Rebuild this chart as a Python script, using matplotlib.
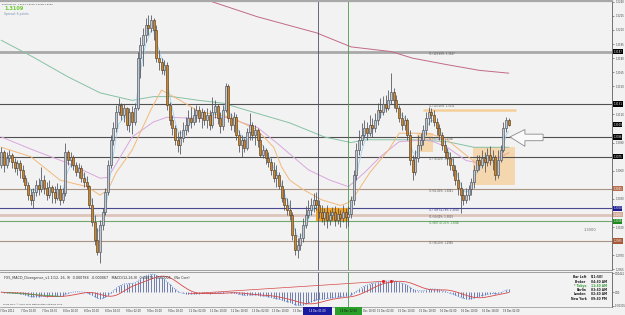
import numpy as np
import matplotlib
matplotlib.use("Agg")
import matplotlib.pyplot as plt
from matplotlib.patches import Rectangle, Polygon
from matplotlib.transforms import blended_transform_factory

# ---------------- data ----------------
symbol = "EURAUD,H1"
first_open = 1.3066
close = [1.3080, 1.3066, 1.3074, 1.3077, 1.3069, 1.3063, 1.3068, 1.3061, 1.3052, 1.3045,
         1.3034, 1.3029, 1.3037, 1.3045, 1.3040, 1.3050, 1.3042, 1.3034, 1.3043, 1.3037,
         1.3031, 1.3040, 1.3029, 1.3036, 1.3080, 1.3071, 1.3075, 1.3066, 1.3059, 1.3063,
         1.3052, 1.3048, 1.3044, 1.3023, 1.3005, 1.2986, 1.2973, 1.3002, 1.3016, 1.3037,
         1.3066, 1.3093, 1.3106, 1.3123, 1.3130, 1.3119, 1.3127, 1.3109, 1.3123, 1.3112,
         1.3127, 1.3180, 1.3194, 1.3205, 1.3215, 1.3212, 1.3221, 1.3210, 1.3180, 1.3176,
         1.3167, 1.3173, 1.3130, 1.3114, 1.3106, 1.3093, 1.3087, 1.3095, 1.3103, 1.3109,
         1.3116, 1.3112, 1.3119, 1.3125, 1.3116, 1.3123, 1.3114, 1.3119, 1.3109, 1.3123,
         1.3129, 1.3116, 1.3108, 1.3125, 1.3150, 1.3116, 1.3109, 1.3117, 1.3098, 1.3087,
         1.3093, 1.3084, 1.3101, 1.3109, 1.3098, 1.3103, 1.3093, 1.3077, 1.3082, 1.3074,
         1.3069, 1.3061, 1.3052, 1.3055, 1.3044, 1.3031, 1.3023, 1.3018, 1.3013, 1.2991,
         1.2975, 1.2981, 1.2988, 1.3002, 1.3013, 1.3018, 1.3023, 1.3029, 1.3023, 1.3016,
         1.3010, 1.3016, 1.3007, 1.3013, 1.3016, 1.3007, 1.3014, 1.3010, 1.3016, 1.3011,
         1.3014, 1.3029, 1.3055, 1.3082, 1.3093, 1.3098, 1.3106, 1.3100, 1.3109, 1.3106,
         1.3114, 1.3125, 1.3123, 1.3131, 1.3127, 1.3135, 1.3144, 1.3135, 1.3127, 1.3116,
         1.3109, 1.3114, 1.3098, 1.3071, 1.3059, 1.3074, 1.3087, 1.3093, 1.3103, 1.3116,
         1.3123, 1.3119, 1.3112, 1.3106, 1.3098, 1.3087, 1.3080, 1.3074, 1.3066, 1.3061,
         1.3050, 1.3042, 1.3034, 1.3029, 1.3034, 1.3040, 1.3048, 1.3061, 1.3071, 1.3066,
         1.3074, 1.3069, 1.3077, 1.3071, 1.3075, 1.3055, 1.3071, 1.3082, 1.3106, 1.3114,
         1.3109]
high = [1.3085, 1.3082, 1.3080, 1.3082, 1.3079, 1.3074, 1.3071, 1.3071, 1.3066, 1.3055,
        1.3048, 1.3040, 1.3042, 1.3050, 1.3052, 1.3064, 1.3055, 1.3048, 1.3050, 1.3045,
        1.3044, 1.3047, 1.3045, 1.3042, 1.3090, 1.3082, 1.3080, 1.3077, 1.3069, 1.3068,
        1.3066, 1.3059, 1.3054, 1.3045, 1.3031, 1.3013, 1.2999, 1.3008, 1.3020, 1.3042,
        1.3071, 1.3098, 1.3112, 1.3130, 1.3137, 1.3132, 1.3131, 1.3128, 1.3127, 1.3129,
        1.3132, 1.3187, 1.3202, 1.3212, 1.3223, 1.3226, 1.3226, 1.3223, 1.3215, 1.3189,
        1.3180, 1.3178, 1.3176, 1.3133, 1.3119, 1.3109, 1.3101, 1.3103, 1.3112, 1.3117,
        1.3125, 1.3128, 1.3127, 1.3130, 1.3129, 1.3127, 1.3125, 1.3127, 1.3125, 1.3139,
        1.3135, 1.3131, 1.3123, 1.3130, 1.3154, 1.3152, 1.3121, 1.3123, 1.3120, 1.3103,
        1.3098, 1.3095, 1.3106, 1.3121, 1.3112, 1.3109, 1.3106, 1.3100, 1.3087, 1.3084,
        1.3080, 1.3074, 1.3069, 1.3066, 1.3059, 1.3050, 1.3040, 1.3031, 1.3029, 1.3016,
        1.2999, 1.2988, 1.2994, 1.3010, 1.3022, 1.3029, 1.3031, 1.3036, 1.3037, 1.3029,
        1.3023, 1.3020, 1.3023, 1.3018, 1.3021, 1.3022, 1.3020, 1.3018, 1.3023, 1.3020,
        1.3022, 1.3033, 1.3061, 1.3090, 1.3103, 1.3111, 1.3114, 1.3112, 1.3119, 1.3116,
        1.3121, 1.3132, 1.3137, 1.3140, 1.3141, 1.3146, 1.3164, 1.3148, 1.3141, 1.3130,
        1.3123, 1.3119, 1.3116, 1.3103, 1.3077, 1.3082, 1.3098, 1.3100, 1.3109, 1.3123,
        1.3128, 1.3127, 1.3125, 1.3116, 1.3110, 1.3101, 1.3093, 1.3084, 1.3080, 1.3074,
        1.3066, 1.3059, 1.3048, 1.3040, 1.3042, 1.3045, 1.3052, 1.3066, 1.3077, 1.3077,
        1.3082, 1.3080, 1.3084, 1.3086, 1.3082, 1.3077, 1.3082, 1.3087, 1.3112, 1.3117,
        1.3116]
low = [1.3063, 1.3059, 1.3063, 1.3069, 1.3063, 1.3059, 1.3055, 1.3052, 1.3048, 1.3040,
       1.3029, 1.3023, 1.3020, 1.3033, 1.3034, 1.3037, 1.3035, 1.3029, 1.3031, 1.3026,
       1.3026, 1.3029, 1.3023, 1.3026, 1.3033, 1.3066, 1.3064, 1.3061, 1.3054, 1.3052,
       1.3048, 1.3043, 1.3040, 1.3020, 1.3001, 1.2981, 1.2970, 1.2962, 1.2997, 1.3013,
       1.3034, 1.3063, 1.3087, 1.3101, 1.3119, 1.3114, 1.3112, 1.3103, 1.3101, 1.3099,
       1.3109, 1.3125, 1.3159, 1.3172, 1.3197, 1.3205, 1.3208, 1.3199, 1.3176, 1.3167,
       1.3163, 1.3162, 1.3125, 1.3109, 1.3098, 1.3087, 1.3080, 1.3078, 1.3091, 1.3098,
       1.3101, 1.3106, 1.3109, 1.3112, 1.3112, 1.3106, 1.3109, 1.3106, 1.3103, 1.3106,
       1.3116, 1.3110, 1.3100, 1.3103, 1.3123, 1.3112, 1.3103, 1.3101, 1.3093, 1.3080,
       1.3075, 1.3080, 1.3082, 1.3093, 1.3093, 1.3087, 1.3085, 1.3075, 1.3074, 1.3067,
       1.3064, 1.3055, 1.3048, 1.3043, 1.3040, 1.3027, 1.3018, 1.3013, 1.3008, 1.2986,
       1.2970, 1.2967, 1.2975, 1.2984, 1.2999, 1.3010, 1.3013, 1.3016, 1.3018, 1.3010,
       1.3005, 1.3002, 1.2999, 1.3002, 1.3007, 1.3001, 1.3003, 1.3000, 1.3005, 1.2999,
       1.3001, 1.3010, 1.3023, 1.3050, 1.3077, 1.3087, 1.3095, 1.3093, 1.3097, 1.3096,
       1.3101, 1.3109, 1.3116, 1.3119, 1.3123, 1.3125, 1.3131, 1.3127, 1.3123, 1.3112,
       1.3103, 1.3103, 1.3093, 1.3066, 1.3050, 1.3055, 1.3069, 1.3082, 1.3087, 1.3098,
       1.3109, 1.3112, 1.3108, 1.3098, 1.3093, 1.3082, 1.3074, 1.3066, 1.3061, 1.3054,
       1.3045, 1.3034, 1.3015, 1.3023, 1.3026, 1.3029, 1.3034, 1.3042, 1.3059, 1.3061,
       1.3063, 1.3059, 1.3065, 1.3066, 1.3061, 1.3050, 1.3052, 1.3069, 1.3080, 1.3101,
       1.3108]

# moving averages (bar index, price)
ma_orange_x = [0, 11, 22, 32, 37, 40, 43, 49, 56, 60, 67, 74, 86, 96, 102, 105, 108, 113,
               120, 127, 130, 133, 138, 145, 149, 160, 167, 173, 178, 183, 190]
ma_orange_y = [1.3085, 1.3075, 1.3050, 1.3043, 1.3034, 1.3040, 1.3058, 1.3082, 1.3125, 1.3146,
               1.3135, 1.3123, 1.3117, 1.3103, 1.3085, 1.3064, 1.3050, 1.3040, 1.3029, 1.3023,
               1.3026, 1.3036, 1.3058, 1.3082, 1.3100, 1.3100, 1.3093, 1.3079, 1.3068, 1.3068,
               1.3079]
ma_pink_x = [0, 12, 25, 37, 40, 49, 57, 62, 72, 84, 96, 103, 115, 123, 130, 136, 142, 149,
             160, 167, 174, 179, 187, 190]
ma_pink_y = [1.3096, 1.3082, 1.3068, 1.3052, 1.3053, 1.3096, 1.3112, 1.3117, 1.3116, 1.3117,
             1.3106, 1.3090, 1.3061, 1.3050, 1.3043, 1.3058, 1.3075, 1.3091, 1.3093, 1.3085,
             1.3071, 1.3068, 1.3075, 1.3079]
ma_green_x = [0, 12, 25, 37, 49, 57, 64, 74, 83, 96, 108, 121, 131, 136, 146, 154, 167, 177,
              187, 190]
ma_green_y = [1.3199, 1.3181, 1.3160, 1.3143, 1.3135, 1.3139, 1.3139, 1.3135, 1.3132, 1.3121,
              1.3111, 1.3096, 1.3090, 1.3093, 1.3093, 1.3093, 1.3091, 1.3085, 1.3085, 1.3085]
ma_maroon_x = [60, 74, 78, 96, 118, 131, 146, 154, 167, 179, 190]
ma_maroon_y = [1.3262, 1.3245, 1.3241, 1.3224, 1.3207, 1.3192, 1.3187, 1.3180, 1.3173,
               1.3167, 1.3164]

# Fibonacci levels
fib_names = ["123.60%", "100.00%", "85.40%", "76.40%", "61.80%", "TOP 52.79%", "50.00%",
             "BOT 47.21%", "38.20%"]
fib_prices = [1.3187, 1.3131, 1.3096, 1.3075, 1.3041, 1.3020, 1.3013, 1.3006, 1.2985]

price_ticks = [1.3240, 1.3225, 1.3210, 1.3195, 1.3180, 1.3165, 1.3150, 1.3135, 1.3120,
               1.3105, 1.3090, 1.3075, 1.3060, 1.3045, 1.3030, 1.3015, 1.3000, 1.2985,
               1.2970, 1.2955]

time_labels = ["7 Dec 2011", "7 Dec 10:00", "7 Dec 18:00", "8 Dec 02:00", "8 Dec 10:00",
               "8 Dec 18:00", "9 Dec 02:00", "9 Dec 10:00", "9 Dec 18:00", "12 Dec 02:00",
               "12 Dec 10:00", "12 Dec 18:00", "13 Dec 02:00", "13 Dec 10:00", "13 Dec 18:00",
               None, None, "14 Dec 18:00", "15 Dec 02:00", "15 Dec 10:00",
               "15 Dec 18:00", "16 Dec 02:00", "16 Dec 10:00", "16 Dec 18:00", "19 Dec 02:00"]
vline_labels = ["14 Dec 01:00", "14 Dec 12:00"]

info_names = ["Bar Left", "Broker", "* Tokyo", "Berlin", "London", "New York"]
info_values = ["[11:50]", "04:40 AM", "11:40 AM", "03:40 AM", "02:40 AM", "09:40 PM"]

# ---------------- layout / style constants ----------------
W, H = 625, 315
PITCH = 2.67            # pixels per bar
LABEL_STEP = 7.85       # bars between time labels (as drawn)
BG = "#f2f2f2"
vline_x = [118.6, 129.8]

def fx(px):
    return px / W

def fy(py):
    return 1 - py / H

fig = plt.figure(figsize=(W / 100, H / 100), dpi=100, facecolor=BG)
ax = fig.add_axes([0, 45 / H, 612 / W, 269 / H], facecolor=BG)
ax2 = fig.add_axes([0, 8 / H, 612 / W, 35 / H], facecolor=BG)

n = len(close)
x = np.arange(n)
c = np.array(close)
hi = np.array(high)
lo = np.array(low)
o = np.array([first_open] + close[:-1])

xlim = (-0.5, 612 / PITCH - 0.5)
ax.set_xlim(*xlim)
ax2.set_xlim(*xlim)
ax.set_ylim(1.29542, 1.32409)

# horizontal (fib) lines
line_cols = ["#a9a9a9", "#505050", "#505050", "#505050", "#a89484", "#4a4a90", "#dcc4bc",
             "#70a870", "#a89484"]
line_w = [2.0, 0.8, 0.8, 0.8, 0.8, 0.8, 2.0, 0.8, 0.8]
for p, col, lw in zip(fib_prices, line_cols, line_w):
    ax.axhline(p, color=col, lw=lw, zorder=1.5)

# zones
ax.add_patch(Rectangle((117.9, fib_prices[7]), 130.2 - 117.9, fib_prices[5] - fib_prices[7],
                       facecolor="#f0a22a", edgecolor="none", zorder=1.8))
ax.add_patch(Rectangle((155.7, 1.3080), 6.0, 0.0020, facecolor="#f5d3a3", alpha=0.85,
                       edgecolor="none", zorder=1.2))
ax.add_patch(Rectangle((176.7, 1.3045), 15.7, 0.0040, facecolor="#f5d3a3", alpha=0.85,
                       edgecolor="none", zorder=1.2))
ax.plot([158, 192.8], [1.3125, 1.3125], color="#f5cf9a", lw=1.8, zorder=1.3,
        solid_capstyle="butt")

# vertical lines
for ax_ in (ax, ax2):
    ax_.axvline(vline_x[0], color="#505068", lw=0.6, zorder=2.5)
    ax_.axvline(vline_x[1], color="#4a9a4a", lw=0.6, zorder=2.5)

# moving averages
def ema(vals, period):
    a = 2.0 / (period + 1)
    out = np.empty(len(vals))
    out[0] = vals[0]
    for i in range(1, len(vals)):
        out[i] = out[i - 1] + a * (vals[i] - out[i - 1])
    return out

ax.plot(ma_maroon_x, ma_maroon_y, color="#c06a88", lw=0.7, zorder=2)
ax.plot(ma_green_x, ma_green_y, color="#86c2a4", lw=0.7, zorder=2)
ax.plot(ma_pink_x, ma_pink_y, color="#d9a6dc", lw=0.7, zorder=2)
ax.plot(ma_orange_x, ma_orange_y, color="#f2b97a", lw=0.7, zorder=2)
ax.plot(x, ema(c, 4), color="#9fd3ee", lw=0.6, zorder=2)

# candles
up = c >= o
ax.vlines(x, lo, hi, color="#4a4f58", lw=0.55, zorder=3)
ax.bar(x[up], (c - o)[up], bottom=o[up], width=0.75, color="#c2c7d0",
       edgecolor="#4c525c", lw=0.45, zorder=4)
ax.bar(x[~up], (c - o)[~up], bottom=o[~up], width=0.75, color="#c68634",
       edgecolor="#5a4020", lw=0.45, zorder=4)

# arrow
arrow = Polygon([(190.5, 1.3096), (196.1, 1.3104), (196.1, 1.3099), (202.9, 1.3099),
                 (202.9, 1.3092), (196.1, 1.3092), (196.1, 1.3086)], closed=True,
                facecolor="#fafafa", edgecolor="#8a8a8a", lw=0.6, zorder=5)
ax.add_patch(arrow)

# fib labels
lab_cols = ["#505050"] * 5 + ["#303088", "#505050", "#2e8a2e", "#505050"]
for name, p, col in zip(fib_names, fib_prices, lab_cols):
    ax.text(160.0, p, f"(1) {name}  {p:.4f}", fontsize=1.8, color=col, va="top",
            ha="left", zorder=6)
ax.text(218.0, 1.2997, "1.3000", fontsize=2.6, color="#707070", va="center", ha="left")

# right price axis (tick labels hidden where a level box sits on them)
box_prices = fib_prices + [close[-1]]
shown_ticks = [t for t in price_ticks if min(abs(t - b) for b in box_prices) > 0.0004]
ax.yaxis.tick_right()
ax.set_yticks(shown_ticks)
ax.set_yticklabels([f"{t:.4f}" for t in shown_ticks])
ax.tick_params(axis="y", labelsize=1.8, colors="#404040", length=1.5, width=0.4, pad=0.8)
ax.set_xticks([])
bt = blended_transform_factory(ax.transAxes, ax.transData)
box_cols = ["black", "black", "black", "black", "#b87050", "#1c1c90", "#d4aa98",
            "#1d8a1d", "#a85a38"]
for p, bc in zip(fib_prices, box_cols):
    ax.text(1.002, p, f"{p:.4f}", transform=bt, fontsize=1.8, color="white", va="center",
            ha="left", clip_on=False, zorder=7,
            bbox=dict(boxstyle="square,pad=0.25", fc=bc, ec="none"))
ax.text(1.002, close[-1], f"{close[-1]:.4f}", transform=bt, fontsize=1.8, color="white",
        va="center", ha="left", clip_on=False, zorder=7,
        bbox=dict(boxstyle="square,pad=0.25", fc="black", ec="none"))

for s in ("left",):
    ax.spines[s].set_visible(False)
    ax2.spines[s].set_visible(False)
ax.spines["top"].set_color("#a8a8a8"); ax.spines["top"].set_linewidth(1.6)
ax.spines["right"].set_color("#707070"); ax.spines["right"].set_linewidth(0.7)
ax.spines["bottom"].set_color("#909090"); ax.spines["bottom"].set_linewidth(0.6)
ax2.spines["top"].set_color("#909090"); ax2.spines["top"].set_linewidth(0.6)
ax2.spines["right"].set_color("#707070"); ax2.spines["right"].set_linewidth(0.7)
ax2.spines["bottom"].set_color("#909090"); ax2.spines["bottom"].set_linewidth(0.5)

# header texts
fig.text(fx(2), fy(4), f"{symbol}  {o[-1]:.4f} {hi[-1]:.4f} {lo[-1]:.4f} {c[-1]:.4f}",
         fontsize=1.7, color="#303030", va="center", ha="left")
fig.text(fx(4), fy(9), f"{c[-1]:.4f}", fontsize=3.6, color="#6acb32", fontweight="bold",
         va="center", ha="left")
fig.text(fx(4), fy(14), "Spread: 6 points", fontsize=2.2, color="#7890b0", va="center",
         ha="left")

# ---------------- MACD panel ----------------
macd = ema(c, 12) - ema(c, 26)
signal = np.array([macd[max(0, i - 8):i + 1].mean() for i in range(n)])
m_hi = macd.max() * 1.12
m_lo = min(macd.min() * 1.12, -0.6 * m_hi)
ax2.set_ylim(m_lo, m_hi)
ax2.vlines(x, 0, macd, color="#5c6ca4", lw=0.6, zorder=2)
ax2.plot(x, macd, color="#3c78e0", lw=0.6, ls=":", zorder=3)
ax2.plot(x, signal, color="#d84848", lw=0.6, zorder=3)
div_red = [70, 144]
div_green = [2, 22]
ax2.plot(div_red, macd[div_red], color="#d84848", lw=0.5, zorder=3)
ax2.plot(div_green, macd[div_green], color="#48a048", lw=0.5, zorder=3)
ax2.scatter([143, 146], macd[[143, 146]], s=1.5, color="#e02020", zorder=4)
ax2.set_xticks([])
ax2.yaxis.tick_right()
mt = [m_hi * 0.93, 0.0, m_lo * 0.9]
ax2.set_yticks(mt)
ax2.set_yticklabels([f"{v:.5f}" if v != 0 else "0.00" for v in mt])
ax2.tick_params(axis="y", labelsize=1.8, colors="#404040", length=1.5, width=0.4, pad=0.8)

ax2.text(0.006, 0.83, "FX5_MACD_Divergence_v1.1(12, 26, 9)  0.000788  -0.000067   "
         "MACD(12,26,9)  0.00071  -0.00005   (No Corr)", transform=ax2.transAxes,
         fontsize=2.4, color="#303030", va="center", ha="left")
ax2.text(0.005, 0.09, "FxPro MT4, \u00a9 2001-2011 MetaQuotes Software Corp.",
         transform=ax2.transAxes, fontsize=1.6, color="#303030", va="center", ha="left")
info_y = [0.86, 0.72, 0.60, 0.49, 0.37, 0.23]
for name, val, yy in zip(info_names, info_values, info_y):
    col = "#3a9a3a" if "Tokyo" in name else "#202020"
    ax2.text(0.958, yy, name, transform=ax2.transAxes, fontsize=2.2, fontweight="bold",
             color=col, va="center", ha="right")
    ax2.text(0.966, yy, val, transform=ax2.transAxes, fontsize=2.2, fontweight="bold",
             color=col, va="center", ha="left")

# time axis labels
tb = blended_transform_factory(ax2.transData, fig.transFigure)
for k, lab in enumerate(time_labels):
    if lab is None:
        continue
    xx = k * LABEL_STEP - 0.5
    if k == 17:
        xx += 1.0
    ax2.text(xx, fy(311), lab, transform=tb, fontsize=1.8,
             color="#303030", va="center", ha="left", clip_on=False)
fig.add_artist(Rectangle((fx(303), fy(315)), fx(29), 8 / H, transform=fig.transFigure,
                         facecolor="#1a1aa0", edgecolor="none", zorder=10))
fig.add_artist(Rectangle((fx(335), fy(315)), fx(27), 8 / H, transform=fig.transFigure,
                         facecolor="#2aa02a", edgecolor="none", zorder=10))
fig.text(fx(317.5), fy(311), vline_labels[0], fontsize=1.8, color="white", ha="center",
         va="center", zorder=11)
fig.text(fx(348.5), fy(311), vline_labels[1], fontsize=1.8, color="#101010", ha="center",
         va="center", zorder=11)

fig.savefig("out.png", dpi=100, facecolor=BG)
